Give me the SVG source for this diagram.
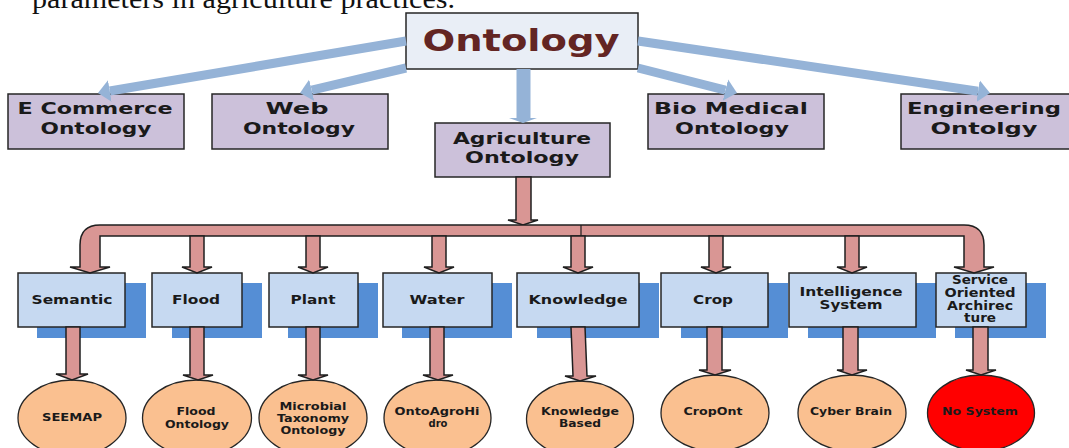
<svg xmlns="http://www.w3.org/2000/svg" width="1069" height="448" viewBox="0 0 1069 448">
<style>
.lbl{font-family:"DejaVu Sans","Liberation Sans",sans-serif;font-weight:bold;fill:#1a1a1a;text-anchor:middle}
.l2{font-size:16px}
.l3{font-size:13px}
.l3i{font-size:12px}
.l3s{font-size:11.5px}
.l4{font-size:10.5px}
.b2{fill:#CCC1DA;stroke:#262626;stroke-width:1.5}
.b3{fill:#C6D9F1;stroke:#262626;stroke-width:1.5}
.sh{fill:#558ED5}
.el{fill:#FAC090;stroke:#262626;stroke-width:1.3}
.pk{fill:#D99694;stroke:#1f1f1f;stroke-width:1.5;stroke-linejoin:miter}
.bl{stroke:#95B3D7;stroke-width:9;fill:none}
</style>
<defs>
<marker id="bh" markerUnits="userSpaceOnUse" markerWidth="14" markerHeight="24" refX="0" refY="12" orient="auto" viewBox="0 0 14 24">
<path d="M0,1 L12,12 L0,23 Z" fill="#95B3D7"/>
</marker>
</defs>
<rect width="1069" height="448" fill="#ffffff"/>
<text x="32" y="8" font-family="'Liberation Serif',serif" font-size="28" fill="#111" textLength="423" lengthAdjust="spacingAndGlyphs">parameters in agriculture practices.</text>

<g id="ontology">
<rect x="406" y="13" width="232" height="56" fill="#E9EEF6" stroke="#262626" stroke-width="1.5"/>
<text x="521" y="51" font-family="'DejaVu Sans','Liberation Sans',sans-serif" font-weight="bold" font-size="30" fill="#632523" text-anchor="middle" textLength="197" lengthAdjust="spacingAndGlyphs">Ontology</text>
</g>
<g id="ecommerce">
<rect class="b2" x="8" y="94" width="176" height="55"/>
<text class="lbl l2" x="95" y="114" textLength="155" lengthAdjust="spacingAndGlyphs">E Commerce</text>
<text class="lbl l2" x="96" y="134" textLength="111" lengthAdjust="spacingAndGlyphs">Ontology</text>
</g>
<g id="web">
<rect class="b2" x="212" y="94" width="176" height="55"/>
<text class="lbl l2" x="297" y="114" textLength="63" lengthAdjust="spacingAndGlyphs">Web</text>
<text class="lbl l2" x="299" y="134" textLength="112" lengthAdjust="spacingAndGlyphs">Ontology</text>
</g>
<g id="agriculture">
<rect class="b2" x="435" y="123" width="175" height="54"/>
<text class="lbl l2" x="522" y="144" textLength="138" lengthAdjust="spacingAndGlyphs">Agriculture</text>
<text class="lbl l2" x="522" y="163" textLength="114" lengthAdjust="spacingAndGlyphs">Ontology</text>
</g>
<g id="biomedical">
<rect class="b2" x="648" y="94" width="176" height="55"/>
<text class="lbl l2" x="731" y="114" textLength="154" lengthAdjust="spacingAndGlyphs">Bio Medical</text>
<text class="lbl l2" x="732" y="134" textLength="114" lengthAdjust="spacingAndGlyphs">Ontology</text>
</g>
<g id="engineering">
<rect class="b2" x="901" y="94" width="176" height="55"/>
<text class="lbl l2" x="984" y="114" textLength="154" lengthAdjust="spacingAndGlyphs">Engineering</text>
<text class="lbl l2" x="984" y="134" textLength="107" lengthAdjust="spacingAndGlyphs">Ontolgy</text>
</g>

<g id="semantic">
<rect class="sh" x="37" y="283" width="109" height="55"/>
<rect class="b3" x="18" y="273" width="107" height="54"/>
<text class="lbl l3" x="72" y="304" textLength="81" lengthAdjust="spacingAndGlyphs">Semantic</text>
</g>
<g id="flood">
<rect class="sh" x="172" y="283" width="90" height="55"/>
<rect class="b3" x="152" y="273" width="90" height="54"/>
<text class="lbl l3" x="196" y="304" textLength="48" lengthAdjust="spacingAndGlyphs">Flood</text>
</g>
<g id="plant">
<rect class="sh" x="288" y="283" width="90" height="55"/>
<rect class="b3" x="269" y="273" width="89" height="54"/>
<text class="lbl l3" x="313" y="304" textLength="45" lengthAdjust="spacingAndGlyphs">Plant</text>
</g>
<g id="water">
<rect class="sh" x="402" y="283" width="110" height="55"/>
<rect class="b3" x="383" y="273" width="109" height="54"/>
<text class="lbl l3" x="437" y="304" textLength="55" lengthAdjust="spacingAndGlyphs">Water</text>
</g>
<g id="knowledge">
<rect class="sh" x="537" y="283" width="122" height="55"/>
<rect class="b3" x="517" y="273" width="122" height="54"/>
<text class="lbl l3" x="578" y="304" textLength="99" lengthAdjust="spacingAndGlyphs">Knowledge</text>
</g>
<g id="crop">
<rect class="sh" x="681" y="283" width="107" height="55"/>
<rect class="b3" x="661" y="273" width="107" height="54"/>
<text class="lbl l3" x="713" y="304" textLength="40" lengthAdjust="spacingAndGlyphs">Crop</text>
</g>
<g id="intelligence">
<rect class="sh" x="808" y="283" width="128" height="55"/>
<rect class="b3" x="789" y="273" width="127" height="54"/>
<text class="lbl l3i" x="851" y="296" textLength="103" lengthAdjust="spacingAndGlyphs">Intelligence</text>
<text class="lbl l3i" x="851" y="309" textLength="63" lengthAdjust="spacingAndGlyphs">System</text>
</g>
<g id="soa">
<rect class="sh" x="955" y="283" width="91" height="55"/>
<rect class="b3" x="936" y="273" width="90" height="54"/>
<text class="lbl l3s" x="980" y="284" textLength="56" lengthAdjust="spacingAndGlyphs">Service</text>
<text class="lbl l3s" x="980" y="297" textLength="71" lengthAdjust="spacingAndGlyphs">Oriented</text>
<text class="lbl l3s" x="980" y="310" textLength="66" lengthAdjust="spacingAndGlyphs">Archirec</text>
<text class="lbl l3s" x="980" y="322" textLength="32" lengthAdjust="spacingAndGlyphs">ture</text>
</g>

<g id="seemap">
<ellipse class="el" cx="72" cy="418" rx="54" ry="38"/>
<text class="lbl l4" x="72" y="421" textLength="60" lengthAdjust="spacingAndGlyphs">SEEMAP</text>
</g>
<g id="floodontology">
<ellipse class="el" cx="197" cy="418" rx="54.5" ry="38"/>
<text class="lbl l4" x="196" y="415" textLength="39" lengthAdjust="spacingAndGlyphs">Flood</text>
<text class="lbl l4" x="197" y="428" textLength="64" lengthAdjust="spacingAndGlyphs">Ontology</text>
</g>
<g id="microbial">
<ellipse class="el" cx="313" cy="418" rx="54" ry="38"/>
<text class="lbl l4" x="313" y="410" textLength="67" lengthAdjust="spacingAndGlyphs">Microbial</text>
<text class="lbl l4" x="313" y="422" textLength="72" lengthAdjust="spacingAndGlyphs">Taxonomy</text>
<text class="lbl l4" x="313" y="434" textLength="65" lengthAdjust="spacingAndGlyphs">Ontology</text>
</g>
<g id="ontoagrohidro">
<ellipse class="el" cx="437.5" cy="418" rx="53.5" ry="38"/>
<text class="lbl l4" x="437" y="415" textLength="85" lengthAdjust="spacingAndGlyphs">OntoAgroHi</text>
<text class="lbl l4" x="438" y="427" textLength="19" lengthAdjust="spacingAndGlyphs">dro</text>
</g>
<g id="knowledgebased">
<ellipse class="el" cx="580" cy="419" rx="53.5" ry="38"/>
<text class="lbl l4" x="580" y="415" textLength="78" lengthAdjust="spacingAndGlyphs">Knowledge</text>
<text class="lbl l4" x="580" y="427" textLength="42" lengthAdjust="spacingAndGlyphs">Based</text>
</g>
<g id="cropont">
<ellipse class="el" cx="715" cy="413" rx="54" ry="38"/>
<text class="lbl l4" x="713" y="415" textLength="59" lengthAdjust="spacingAndGlyphs">CropOnt</text>
</g>
<g id="cyberbrain">
<ellipse class="el" cx="852" cy="413" rx="54" ry="38"/>
<text class="lbl l4" x="851" y="415" textLength="82" lengthAdjust="spacingAndGlyphs">Cyber Brain</text>
</g>
<g id="nosystem">
<ellipse cx="981" cy="413" rx="53.5" ry="38" fill="#FF0000" stroke="#262626" stroke-width="1.3"/>
<text class="lbl l4" x="980" y="415" textLength="76" lengthAdjust="spacingAndGlyphs">No System</text>
</g>

<g id="connectors">
<line class="bl" x1="406" y1="41" x2="109.8" y2="91" marker-end="url(#bh)"/>
<line class="bl" x1="406" y1="68" x2="311.7" y2="90.2" marker-end="url(#bh)"/>
<line class="bl" x1="638" y1="68" x2="725.4" y2="90.1" marker-end="url(#bh)"/>
<line class="bl" x1="638" y1="41" x2="978.1" y2="91.2" marker-end="url(#bh)"/>
<polygon points="516.5,69 516.5,118 509,118 523,123 537,118 530.5,118 530.5,69" fill="#95B3D7"/>

<path class="pk" d="M516,177 L516,220 L508,220 L523,225 L538,220 L531,220 L531,177 Z"/>
<path class="pk" d="M80,267 L70,267 L90,273 L110,267 L100,267 L100,236 L964,236 L964,267 L954,267 L974,273 L994,267 L984,267 L984,245 Q984,225 964,225 L100,225 Q80,225 80,245 Z"/>
<line x1="581" y1="225" x2="581" y2="236" stroke="#1f1f1f" stroke-width="1.2"/>

<path class="pk" d="M190,236 L190,267 L182,267 L197,273 L212,267 L204,267 L204,236 Z"/>
<path class="pk" d="M306,236 L306,267 L298,267 L313,273 L328,267 L320,267 L320,236 Z"/>
<path class="pk" d="M432,236 L432,267 L424,267 L439,273 L454,267 L446,267 L446,236 Z"/>
<path class="pk" d="M571,236 L571,267 L563,267 L578,273 L593,267 L585,267 L585,236 Z"/>
<path class="pk" d="M709,236 L709,267 L701,267 L716,273 L731,267 L723,267 L723,236 Z"/>
<path class="pk" d="M845,236 L845,267 L837,267 L852,273 L867,267 L859,267 L859,236 Z"/>

<path class="pk" d="M66,327 L66,374 L56,374 L72,380 L88,374 L80,374 L80,327 Z"/>
<path class="pk" d="M190,327 L190,375 L183,375 L198,380 L213,375 L204,375 L204,327 Z"/>
<path class="pk" d="M306,327 L306,375 L298,375 L313,380 L328,375 L320,375 L320,327 Z"/>
<path class="pk" d="M430,327 L430,375 L423,375 L438,380 L453,375 L444,375 L444,327 Z"/>
<path class="pk" d="M571,327 L573,376 L565,376 L580,381 L596,376 L587,376 L585,327 Z"/>
<path class="pk" d="M707,327 L707,370 L699,370 L715,375 L731,370 L722,370 L722,327 Z"/>
<path class="pk" d="M843,327 L843,370 L837,370 L852,375 L867,370 L858,370 L858,327 Z"/>
<path class="pk" d="M973,327 L973,370 L966,370 L981,375 L996,370 L988,370 L988,327 Z"/>
</g>
</svg>
